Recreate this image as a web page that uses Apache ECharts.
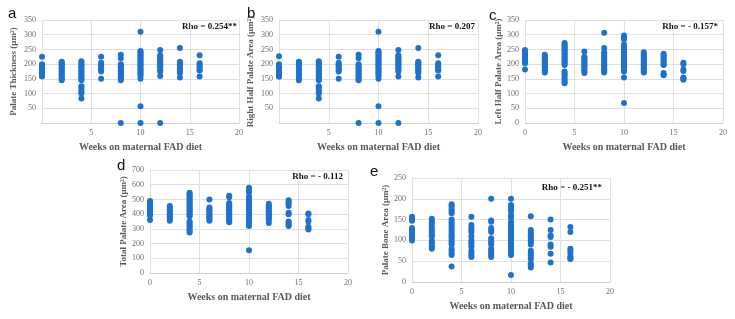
<!DOCTYPE html>
<html>
<head>
<meta charset="utf-8">
<script src="https://cdn.jsdelivr.net/npm/echarts@6/dist/echarts.min.js"></script>
<style>
  html, body { margin: 0; padding: 0; background: #fff; }
  #chart { width: 735px; height: 319px; }
</style>
</head>
<body>
<div id="chart"></div>
<script>
// weeks on diet (x positions of the columns)
const weeks = [0, 2, 4, 6, 8, 10, 12, 14, 16]

// one list of values per week
const palateThickness = [
  [225, 200, 195, 190, 185, 180, 175, 170, 165, 160, 158],
  [208, 205, 200, 195, 190, 185, 180, 175, 170, 165, 160, 155, 150, 145],
  [210, 205, 200, 195, 190, 185, 180, 175, 170, 165, 160, 155, 150, 145, 125, 120, 112, 105, 100, 83],
  [225, 205, 200, 195, 190, 185, 180, 175, 150],
  [232, 220, 200, 195, 190, 185, 180, 175, 170, 165, 160, 155, 150, 145, 0],
  [310, 245, 240, 235, 230, 225, 220, 215, 210, 205, 200, 195, 190, 185, 180, 175, 170, 165, 160, 150, 57, 0],
  [248, 230, 225, 220, 215, 210, 205, 200, 195, 190, 185, 180, 175, 160, 0],
  [255, 208, 205, 200, 195, 190, 185, 180, 175, 170, 155],
  [230, 203, 198, 192, 187, 180, 178, 158]
]
const rightHalfArea = [
  [227, 200, 195, 190, 185, 180, 175, 170, 165, 160, 157],
  [208, 205, 200, 195, 190, 185, 180, 175, 170, 165, 160, 155, 150, 145],
  [210, 205, 200, 195, 190, 185, 180, 175, 170, 165, 160, 155, 150, 145, 125, 120, 112, 105, 100, 83],
  [225, 205, 200, 195, 190, 185, 180, 175, 150],
  [232, 220, 200, 195, 190, 185, 180, 175, 170, 165, 160, 155, 150, 145, 0],
  [310, 245, 240, 235, 230, 225, 220, 215, 210, 205, 200, 195, 190, 185, 180, 175, 170, 165, 160, 150, 57, 0],
  [248, 230, 225, 220, 215, 210, 205, 200, 195, 190, 185, 180, 175, 158, 0],
  [255, 208, 205, 200, 195, 190, 185, 180, 175, 170, 155],
  [230, 203, 198, 192, 187, 180, 178, 158]
]
const leftHalfArea = [
  [248, 243, 238, 232, 228, 222, 218, 212, 208, 203, 182],
  [232, 227, 222, 217, 212, 207, 202, 197, 192, 187, 182, 177, 172],
  [272, 267, 262, 257, 252, 247, 242, 237, 232, 227, 222, 217, 212, 207, 202, 197, 175, 168, 162, 155, 148, 140, 135],
  [243, 225, 220, 215, 210, 205, 200, 195, 190, 185, 180, 175, 170],
  [307, 255, 240, 235, 228, 222, 218, 212, 207, 202, 197, 192, 187, 182, 177, 172],
  [297, 290, 285, 268, 262, 255, 250, 245, 240, 235, 230, 225, 220, 215, 210, 205, 200, 195, 190, 185, 180, 175, 155, 68],
  [240, 235, 230, 225, 220, 215, 210, 205, 200, 195, 190, 185, 180, 175, 172],
  [235, 230, 225, 218, 212, 205, 200, 197, 170, 165, 162],
  [205, 200, 182, 177, 155, 150, 147]
]
const totalArea = [
  [490, 480, 470, 460, 450, 440, 430, 420, 410, 400, 390, 360],
  [455, 445, 435, 425, 415, 405, 395, 385, 375, 365, 355],
  [545, 535, 525, 515, 505, 495, 485, 475, 465, 455, 445, 435, 425, 415, 405, 395, 385, 350, 340, 330, 320, 310, 295, 285, 275],
  [500, 445, 435, 425, 415, 405, 395, 385, 375, 365, 355],
  [525, 515, 475, 465, 455, 445, 435, 425, 415, 405, 395, 385, 375, 365, 355, 345],
  [580, 570, 550, 520, 510, 500, 490, 480, 470, 460, 450, 440, 430, 420, 410, 400, 390, 380, 370, 360, 350, 340, 320, 155],
  [470, 460, 450, 440, 430, 420, 410, 400, 390, 380, 370, 360, 340],
  [495, 480, 470, 455, 410, 400, 350, 340, 330, 320],
  [405, 400, 360, 350, 315, 305, 295]
]
const boneArea = [
  [157, 153, 150, 147, 130, 125, 120, 115, 110, 105, 100],
  [152, 148, 143, 137, 130, 125, 120, 115, 110, 100, 95, 90, 85, 80],
  [187, 182, 175, 170, 165, 150, 145, 140, 135, 130, 125, 120, 115, 110, 105, 100, 95, 90, 80, 75, 70, 65, 37],
  [157, 137, 130, 125, 120, 110, 100, 95, 90, 85, 75, 70, 65, 60],
  [200, 148, 145, 130, 125, 120, 105, 100, 95, 90, 80, 75, 70, 65, 60],
  [200, 185, 180, 175, 170, 160, 155, 145, 140, 135, 130, 125, 120, 115, 110, 105, 100, 95, 90, 85, 80, 75, 70, 65, 17],
  [158, 125, 120, 115, 110, 105, 100, 95, 90, 75, 70, 65, 60, 55, 45, 40, 35],
  [150, 125, 112, 108, 90, 85, 68, 47],
  [132, 120, 80, 75, 70, 62, 57, 55]
]

const panels = [
  { tag: 'a', values: palateThickness, yName: 'Palate Thickness (μm²)', yMax: 350, yStep: 50, rho: 'Rho = 0.254**', hideZero: true },
  { tag: 'b', values: rightHalfArea, yName: 'Right Half Palate Area (μm²)', yMax: 350, yStep: 50, rho: 'Rho = 0.207', hideZero: true },
  { tag: 'c', values: leftHalfArea, yName: 'Left Half Palate Area (μm²)', yMax: 350, yStep: 50, rho: 'Rho = - 0.157*' },
  { tag: 'd', values: totalArea, yName: 'Total Palate Area (μm²)', yMax: 700, yStep: 100, rho: 'Rho = - 0.112' },
  { tag: 'e', values: boneArea, yName: 'Palate Bone Area (μm²)', yMax: 250, yStep: 50, rho: 'Rho = - 0.251**' }
]

const boxes = [
  { left: 42, top: 20, width: 197, height: 103, tagX: 8, tagY: 6, rhoR: 239, rhoY: 21, nameGap: 24 },
  { left: 279, top: 20, width: 199, height: 103, tagX: 247, tagY: 6, rhoR: 477, rhoY: 21, nameGap: 24 },
  { left: 525, top: 20, width: 198, height: 103, tagX: 489, tagY: 8, rhoR: 720, rhoY: 21, nameGap: 21 },
  { left: 150, top: 170, width: 198, height: 103, tagX: 117, tagY: 158, rhoR: 345, rhoY: 171, nameGap: 22 },
  { left: 412, top: 178, width: 198, height: 104, tagX: 370, tagY: 164, rhoR: 604, rhoY: 182, nameGap: 16 }
]

const serif = '"Liberation Serif", "DejaVu Serif", serif'
const dotColor = '#1f72cc'

const chart = echarts.init(document.getElementById('chart'))

const grid = [], xAxis = [], yAxis = [], series = [], graphic = []
panels.forEach((p, i) => {
  const b = boxes[i]
  grid.push({ left: b.left, top: b.top, width: b.width, height: b.height })
  xAxis.push({
    gridIndex: i, type: 'value', min: 0, max: 20, interval: 5,
    name: 'Weeks on maternal FAD diet', nameLocation: 'middle', nameGap: 19,
    nameTextStyle: { fontFamily: serif, fontWeight: 'bold', fontSize: 10, color: '#595959' },
    axisLine: { show: true, lineStyle: { color: '#d0d0d0' } },
    axisTick: { show: false },
    axisLabel: {
      fontFamily: serif, fontSize: 8, color: '#6f6f6f', margin: 6,
      formatter: v => (p.hideZero && v === 0) ? '' : String(v)
    },
    splitLine: { show: true, lineStyle: { color: '#e0e0e0' } }
  })
  yAxis.push({
    gridIndex: i, type: 'value', min: 0, max: p.yMax, interval: p.yStep,
    name: p.yName, nameLocation: 'middle', nameGap: b.nameGap, nameRotate: 90,
    nameTextStyle: { fontFamily: serif, fontWeight: 'bold', fontSize: 9, color: '#595959' },
    axisLine: { show: false },
    axisTick: { show: false },
    axisLabel: {
      fontFamily: serif, fontSize: 8, color: '#6f6f6f', margin: 6,
      formatter: v => (p.hideZero && v === 0) ? '' : String(v)
    },
    splitLine: { show: true, lineStyle: { color: '#e0e0e0' } }
  })
  const data = []
  p.values.forEach((col, k) => col.forEach(v => data.push([weeks[k], v])))
  series.push({
    type: 'scatter', xAxisIndex: i, yAxisIndex: i,
    symbolSize: 6, itemStyle: { color: dotColor, opacity: 1 },
    data: data
  })
  graphic.push({
    type: 'text', left: b.tagX, top: b.tagY,
    style: { text: p.tag, font: '15px "Liberation Sans", Arial, sans-serif', fill: '#111' }
  })
  graphic.push({
    type: 'text', x: b.rhoR, y: b.rhoY,
    style: {
      text: p.rho, font: 'bold 9px ' + serif, fill: '#111',
      align: 'right', verticalAlign: 'top',
      backgroundColor: '#fff', padding: [1, 2]
    }
  })
})

chart.setOption({
  animation: false,
  grid, xAxis, yAxis, series, graphic
})
</script>
</body>
</html>
